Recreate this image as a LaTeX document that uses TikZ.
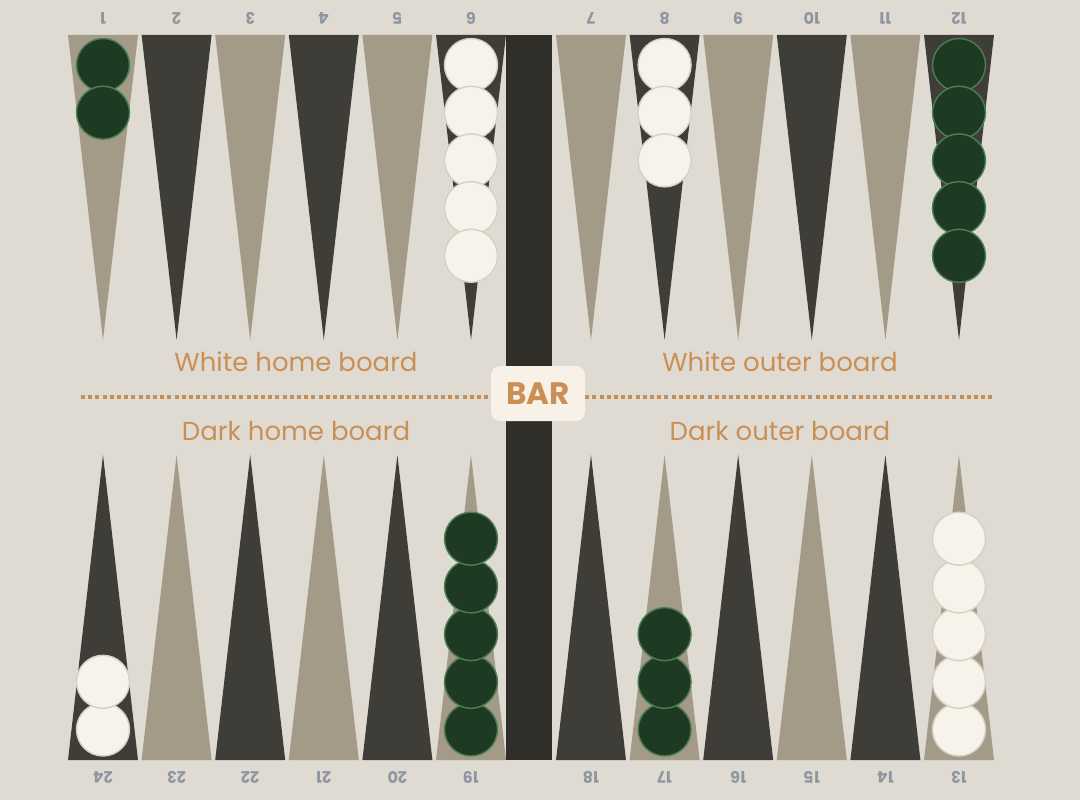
\documentclass[tikz,border=0pt]{standalone}
\usepackage{fontspec}
\setmainfont{Poppins}
\usetikzlibrary{positioning}

\definecolor{boardbg}{HTML}{DFDBD2}
\definecolor{ptlight}{HTML}{A39A88}
\definecolor{ptdark}{HTML}{3F3D38}
\definecolor{barcol}{HTML}{302E29}
\definecolor{chkdark}{HTML}{1E3A22}
\definecolor{chkrim}{HTML}{4E7E54}
\definecolor{chkwhite}{HTML}{F7F3EA}
\definecolor{chkwrim}{HTML}{D6D1C5}
\definecolor{labelcol}{HTML}{C98F55}
\definecolor{numcol}{HTML}{8E969F}
\definecolor{barbox}{HTML}{F7F1E8}

\begin{document}
\begin{tikzpicture}[x=1pt,y=-1pt]
		\tikzstyle{dark checker}=[circle, draw=chkrim, fill=chkdark, line width=1.4pt, minimum size=53pt, inner sep=0pt]
		\tikzstyle{white checker}=[circle, draw=chkwrim, fill=chkwhite, line width=1.4pt, minimum size=53pt, inner sep=0pt]
		\tikzstyle{pointnum}=[text=numcol, font=\fontsize{16}{19}\selectfont\bfseries, rotate=180]
		\tikzstyle{zone}=[text=labelcol, font=\fontsize{26}{31}\selectfont]
		\tikzstyle{divider}=[draw=labelcol, line width=4pt, dash pattern=on 4pt off 3.2pt]

		\fill[boardbg] (0,0) rectangle (1080,800);
		\useasboundingbox (0,0) rectangle (1080,800);

		% bar
		\fill[barcol] (506,35) rectangle (552,760);

		% points, slot 0..11 left to right
		\foreach \k/\top/\bot [count=\c from 0] in {0/1/24,1/2/23,2/3/22,3/4/21,4/5/20,5/6/19,6/7/18,7/8/17,8/9/16,9/10/15,10/11/14,11/12/13} {
			\pgfmathsetmacro\xc{\k<6 ? 103+73.6*\k : 591+73.6*(\k-6)}
			\pgfmathtruncatemacro\odd{mod(\k,2)}
			\ifnum\odd=0
				\fill[ptlight] (\xc-35,35) -- (\xc+35,35) -- (\xc,340) -- cycle;
				\fill[ptdark] (\xc-35,760) -- (\xc+35,760) -- (\xc,455) -- cycle;
			\else
				\fill[ptdark] (\xc-35,35) -- (\xc+35,35) -- (\xc,340) -- cycle;
				\fill[ptlight] (\xc-35,760) -- (\xc+35,760) -- (\xc,455) -- cycle;
			\fi
			\node[pointnum] (n\top) at (\xc,18) {\top};
			\node[pointnum] (n\bot) at (\xc,777) {\bot};
		}

		% checkers on top points
		\foreach \i in {0,1} \node[dark checker] (d1-\i) at (103,65+47.7*\i) {};
		\foreach \i in {0,...,4} \node[white checker] (w6-\i) at (471,65+47.7*\i) {};
		\foreach \i in {0,1,2} \node[white checker] (w8-\i) at (664.6,65+47.7*\i) {};
		\foreach \i in {0,...,4} \node[dark checker] (d12-\i) at (959,65+47.7*\i) {};

		% checkers on bottom points
		\foreach \i in {0,1} \node[white checker] (w24-\i) at (103,729.5-47.7*\i) {};
		\foreach \i in {0,...,4} \node[dark checker] (d19-\i) at (471,729.5-47.7*\i) {};
		\foreach \i in {0,1,2} \node[dark checker] (d17-\i) at (664.6,729.5-47.7*\i) {};
		\foreach \i in {0,...,4} \node[white checker] (w13-\i) at (959,729.5-47.7*\i) {};

		% zone labels
		\node[zone] (whome) at (296,362) {White home board};
		\node[zone] (wouter) at (780,362) {White outer board};
		\node[zone] (dhome) at (296,431) {Dark home board};
		\node[zone] (douter) at (780,431) {Dark outer board};

		% bar label and dotted divider
		\node[fill=barbox, rounded corners=9pt, minimum width=94pt, minimum height=55pt, inner sep=0pt, text=labelcol, font=\fontsize{31}{35}\selectfont\bfseries] (bar) at (538,393.5) {BAR};
		\coordinate (dl) at (81,397);
		\coordinate (dr) at (995,397);
		\draw[divider] (dl) -- (bar.west |- dl);
		\draw[divider] (bar.east |- dr) -- (dr);
	\end{tikzpicture}
\end{document}
